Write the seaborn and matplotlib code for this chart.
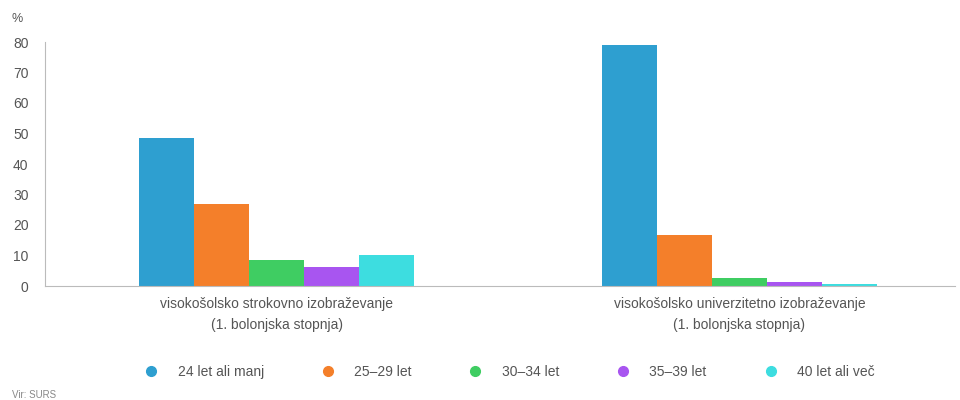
import matplotlib
matplotlib.use("Agg")
import matplotlib.pyplot as plt
from matplotlib.lines import Line2D
import seaborn as sns
import pandas as pd

categories = ["visokošolsko strokovno izobraževanje\n(1. bolonjska stopnja)",
              "visokošolsko univerzitetno izobraževanje\n(1. bolonjska stopnja)"]
age_groups = ["24 let ali manj", "25–29 let", "30–34 let", "35–39 let", "40 let ali več"]
strokovno = [48.5, 26.9, 8.5, 6.2, 10.2]
univerzitetno = [79.0, 16.7, 2.6, 1.3, 0.7]
colors = ["#2e9fd0", "#f47f2a", "#3fcd62", "#a855f0", "#3ddde0"]

rows = []
for cat, vals in zip(categories, [strokovno, univerzitetno]):
    for g, v in zip(age_groups, vals):
        rows.append({"cat": cat, "age": g, "val": v})
df = pd.DataFrame(rows)

sns.set_style("white")
plt.rcParams["font.family"] = ["Liberation Sans", "DejaVu Sans"]
txt = "#555555"

fig = plt.figure(figsize=(9.6, 4), dpi=100)
ax = fig.add_axes([0.047, 0.285, 0.948, 0.61])

sns.barplot(data=df, x="cat", y="val", hue="age", palette=colors,
            width=0.595, saturation=1, legend=False, linewidth=0, ax=ax)

ax.set_ylim(0, 80)
ax.set_xlim(-0.5, 1.466)
ax.set_yticks(range(0, 81, 10))
ax.set_xlabel("")
ax.set_ylabel("")
ax.tick_params(axis="y", labelsize=10, colors=txt, length=4, width=0.8, color="#bbbbbb", pad=8)
ax.tick_params(axis="x", labelsize=10, colors=txt, length=0, pad=8)
for lab in ax.get_xticklabels():
    lab.set_linespacing(1.6)
for s in ["top", "right"]:
    ax.spines[s].set_visible(False)
for s in ["left", "bottom"]:
    ax.spines[s].set_color("#bbbbbb")
    ax.spines[s].set_linewidth(0.8)

fig.text(0.012, 0.945, "%", fontsize=9, color=txt)

handles = [Line2D([], [], marker="o", linestyle="", markersize=7,
                  markerfacecolor=c, markeredgecolor=c) for c in colors]
fig.legend(handles, age_groups, loc="center", bbox_to_anchor=(0.527, 0.07),
           ncol=5, frameon=False, fontsize=10, labelcolor=txt,
           columnspacing=3.6, handletextpad=0.9)

fig.text(0.012, 0.005, "Vir: SURS", fontsize=7, color="#888888")

plt.savefig("out.png", dpi=100)
